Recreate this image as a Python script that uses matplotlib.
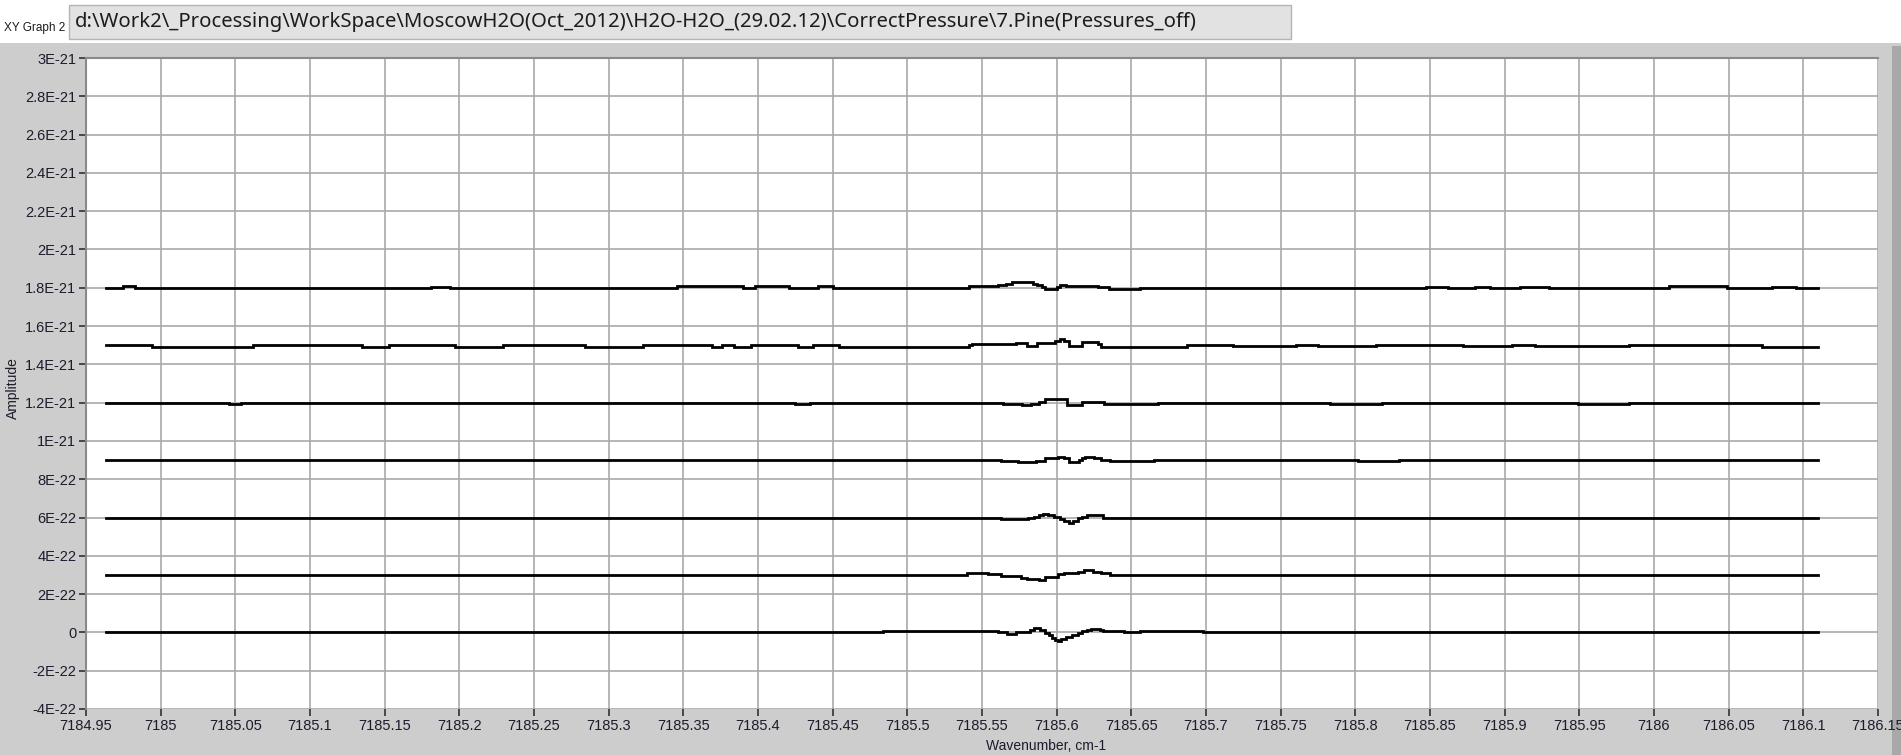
import numpy as np
import matplotlib
matplotlib.use('Agg')
import matplotlib.pyplot as plt
from matplotlib.patches import Rectangle

# Подписи осей (позиции берём из самих строк)
x_tick_labels = ['7184.95', '7185', '7185.05', '7185.1', '7185.15', '7185.2', '7185.25',
                 '7185.3', '7185.35', '7185.4', '7185.45', '7185.5', '7185.55', '7185.6',
                 '7185.65', '7185.7', '7185.75', '7185.8', '7185.85', '7185.9', '7185.95',
                 '7186', '7186.05', '7186.1', '7186.15']
y_tick_labels = ['-4E-22', '-2E-22', '0', '2E-22', '4E-22', '6E-22', '8E-22', '1E-21',
                 '1.2E-21', '1.4E-21', '1.6E-21', '1.8E-21', '2E-21', '2.2E-21', '2.4E-21',
                 '2.6E-21', '2.8E-21', '3E-21']

# Смещения кривых
trace_offsets = [0.0, 3e-22, 6e-22, 9e-22, 1.2e-21, 1.5e-21, 1.8e-21]

# Кривые: (волновое число, отклонение в единицах 1e-22), ступенчато
trace_00 = [(7184.9634, 0.0), (7185.484, 0.05), (7185.561, 0.0), (7185.567, -0.07), (7185.573, 0.03),
            (7185.582, 0.10), (7185.585, 0.21), (7185.589, 0.12), (7185.592, -0.05), (7185.595, -0.15),
            (7185.597, -0.28), (7185.599, -0.40), (7185.601, -0.45), (7185.603, -0.35), (7185.606, -0.25),
            (7185.610, -0.15), (7185.614, -0.02), (7185.617, 0.08), (7185.620, 0.14), (7185.623, 0.17),
            (7185.629, 0.12), (7185.631, 0.07), (7185.645, 0.0), (7185.656, 0.05), (7185.698, 0.0),
            (7186.1098, 0.0)]
trace_03 = [(7184.9634, 0.0), (7185.540, 0.09), (7185.554, 0.03), (7185.563, -0.07), (7185.576, -0.15),
            (7185.580, -0.23), (7185.588, -0.25), (7185.592, -0.12), (7185.598, -0.08), (7185.601, 0.04),
            (7185.605, 0.12), (7185.614, 0.16), (7185.618, 0.24), (7185.624, 0.18), (7185.630, 0.09),
            (7185.636, 0.0), (7186.1098, 0.0)]
trace_06 = [(7184.9634, 0.0), (7185.563, -0.07), (7185.581, -0.04), (7185.585, 0.03), (7185.588, 0.12),
            (7185.591, 0.21), (7185.594, 0.12), (7185.598, 0.02), (7185.602, -0.08), (7185.605, -0.16),
            (7185.608, -0.26), (7185.611, -0.16), (7185.614, -0.05), (7185.617, 0.05), (7185.620, 0.14),
            (7185.626, 0.12), (7185.631, 0.0), (7186.1098, 0.0)]
trace_09 = [(7184.9634, 0.0), (7185.563, -0.05), (7185.574, -0.12), (7185.586, -0.05), (7185.592, 0.09),
            (7185.601, 0.17), (7185.605, 0.09), (7185.608, -0.12), (7185.615, 0.0), (7185.617, 0.09),
            (7185.619, 0.17), (7185.625, 0.09), (7185.630, 0.0), (7185.636, -0.07), (7185.665, 0.0),
            (7185.802, -0.07), (7185.829, 0.0), (7186.1098, 0.0)]
trace_12 = [(7184.9634, 0.0), (7185.046, -0.07), (7185.054, 0.0), (7185.425, -0.07), (7185.435, 0.0),
            (7185.564, -0.09), (7185.577, -0.14), (7185.583, -0.09), (7185.588, 0.03), (7185.592, 0.17),
            (7185.607, -0.10), (7185.617, 0.03), (7185.632, -0.07), (7185.668, 0.0),
            (7185.783, -0.07), (7185.818, 0.0), (7185.949, -0.07), (7185.983, 0.0), (7186.1098, 0.0)]
trace_15 = [(7184.9634, 0.0), (7184.994, -0.07), (7185.062, 0.0), (7185.135, -0.07), (7185.153, 0.0),
            (7185.197, -0.07), (7185.229, 0.0), (7185.284, -0.07), (7185.323, 0.0), (7185.369, -0.07),
            (7185.376, 0.0), (7185.384, -0.07), (7185.395, 0.0), (7185.427, -0.07), (7185.437, 0.0),
            (7185.454, -0.07), (7185.541, 0.0), (7185.543, 0.07), (7185.573, 0.12), (7185.580, -0.04),
            (7185.587, 0.10), (7185.594, 0.14), (7185.599, 0.22), (7185.602, 0.30), (7185.605, 0.20),
            (7185.608, -0.03), (7185.617, 0.16), (7185.628, 0.04), (7185.630, -0.07), (7185.687, 0.0),
            (7185.718, -0.05), (7185.760, 0.0), (7185.775, -0.05), (7185.814, 0.0),
            (7185.872, -0.05), (7185.905, 0.0), (7185.920, -0.05), (7185.983, 0.0),
            (7186.072, -0.07), (7186.1098, -0.07)]
trace_18 = [(7184.9634, 0.0), (7184.975, 0.07), (7184.983, 0.0), (7185.181, 0.06), (7185.194, 0.0),
            (7185.346, 0.09), (7185.390, 0.0), (7185.398, 0.09), (7185.421, 0.0), (7185.440, 0.08),
            (7185.450, 0.0), (7185.541, 0.07), (7185.556, 0.10), (7185.561, 0.14), (7185.566, 0.22),
            (7185.570, 0.28), (7185.574, 0.32), (7185.580, 0.29), (7185.584, 0.22), (7185.587, 0.14),
            (7185.590, 0.04), (7185.592, -0.08), (7185.600, 0.05), (7185.602, 0.17), (7185.606, 0.10),
            (7185.609, 0.07), (7185.628, 0.03), (7185.635, -0.07), (7185.656, 0.0),
            (7185.847, 0.06), (7185.862, 0.0), (7185.880, 0.06), (7185.890, 0.0), (7185.910, 0.06),
            (7185.930, 0.0), (7186.010, 0.07), (7186.049, 0.0), (7186.079, 0.05), (7186.095, 0.0),
            (7186.1098, 0.0)]
traces = [trace_00, trace_03, trace_06, trace_09, trace_12, trace_15, trace_18]

title_path = r'd:\Work2\_Processing\WorkSpace\MoscowH2O(Oct_2012)\H2O-H2O_(29.02.12)\CorrectPressure\7.Pine(Pressures_off)'

narrow = ['Liberation Sans Narrow', 'Liberation Sans', 'DejaVu Sans']
W, H = 1901, 755

fig = plt.figure(figsize=(W / 100, H / 100), dpi=100, facecolor='#cdcdcd')

# белая полоса сверху и тёмная полоса справа
fig.add_artist(Rectangle((0, 1 - 43 / H), 1, 43 / H, transform=fig.transFigure,
                         facecolor='white', edgecolor='none', zorder=0))
fig.add_artist(Rectangle((1892 / W, 0), 9 / W, 1 - 46 / H, transform=fig.transFigure,
                         facecolor='#a8a8a8', edgecolor='none', zorder=0))
# поле с путём файла
fig.add_artist(Rectangle((69 / W, 1 - 39 / H), (1291 - 69) / W, 34 / H, transform=fig.transFigure,
                         facecolor='#e2e2e2', edgecolor='#b4b4b4', linewidth=1, zorder=1))
fig.text(75 / W, 1 - 22 / H, title_path, fontsize=14.6, family=['Noto Sans', 'DejaVu Sans'],
         color='#1c1c1c', va='center', ha='left')
fig.text(65 / W, 1 - 28 / H, 'XY Graph 2', fontsize=8.5, family=narrow, color='#1c1c1c',
         va='center', ha='right')

ax = fig.add_axes([86 / W, 1 - 709 / H, (1878 - 86) / W, (709 - 58) / H])
ax.set_facecolor('white')

for offset, trace in zip(trace_offsets, traces):
    arr = np.array(trace)
    ax.plot(arr[:, 0], offset + arr[:, 1] * 1e-22, color='black', linewidth=2.0,
            drawstyle='steps-post', solid_joinstyle='miter', zorder=3)

x_ticks = [float(s) for s in x_tick_labels]
y_ticks = [float(s) for s in y_tick_labels]
ax.set_xlim(x_ticks[0], x_ticks[-1])
ax.set_ylim(y_ticks[0], y_ticks[-1])
ax.set_xticks(x_ticks)
ax.set_xticklabels(x_tick_labels, family=narrow, fontsize=10.5, color='#1c1c2c')
ax.set_yticks(y_ticks)
ax.set_yticklabels(y_tick_labels, family=narrow, fontsize=10.5, color='#1c1c2c')
ax.tick_params(axis='both', direction='out', length=5, width=1.2, color='#303030', pad=2)
ax.grid(True, color='#a9a9a9', linewidth=1.2, zorder=1)
ax.set_axisbelow(True)

for side in ['left', 'top']:
    ax.spines[side].set_color('#8a8a8a')
    ax.spines[side].set_linewidth(1.5)
for side in ['right', 'bottom']:
    ax.spines[side].set_visible(False)

fig.text(13 / W, 1 - 388 / H, 'Amplitude', rotation=90, fontsize=10, family=narrow,
         color='#1c1c2c', va='center', ha='center')
fig.text(1046 / W, 1 - 746 / H, 'Wavenumber, cm-1', fontsize=10, family=narrow,
         color='#1c1c2c', va='center', ha='center')

fig.savefig('out.png', dpi=100, facecolor=fig.get_facecolor())
